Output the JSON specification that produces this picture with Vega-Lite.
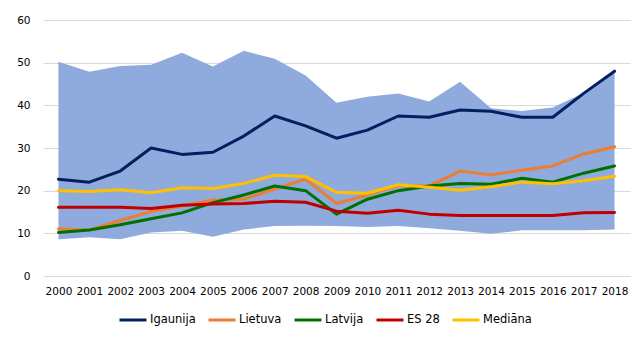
{
  "$schema": "https://vega.github.io/schema/vega-lite/v6.json",
  "autosize": "none",
  "width": 587,
  "height": 256,
  "padding": {"left": 43, "top": 20, "right": 11, "bottom": 75},
  "background": "white",
  "config": {
    "view": {"stroke": null},
    "font": "DejaVu Sans",
    "axis": {"labelFont": "DejaVu Sans", "labelColor": "#000000"}
  },
  "datasets": {
    "band": [
      {"year": "2000", "min": 8.6, "max": 50.2},
      {"year": "2001", "min": 9.1, "max": 47.9},
      {"year": "2002", "min": 8.6, "max": 49.2},
      {"year": "2003", "min": 10.2, "max": 49.5},
      {"year": "2004", "min": 10.6, "max": 52.3},
      {"year": "2005", "min": 9.2, "max": 49.1},
      {"year": "2006", "min": 10.9, "max": 52.8},
      {"year": "2007", "min": 11.7, "max": 50.9},
      {"year": "2008", "min": 11.8, "max": 47.0},
      {"year": "2009", "min": 11.7, "max": 40.6},
      {"year": "2010", "min": 11.5, "max": 42.0},
      {"year": "2011", "min": 11.7, "max": 42.8},
      {"year": "2012", "min": 11.2, "max": 40.9},
      {"year": "2013", "min": 10.6, "max": 45.5},
      {"year": "2014", "min": 9.9, "max": 39.3},
      {"year": "2015", "min": 10.7, "max": 38.7},
      {"year": "2016", "min": 10.7, "max": 39.5},
      {"year": "2017", "min": 10.7, "max": 42.9},
      {"year": "2018", "min": 10.9, "max": 48.1}
    ],
    "lines": [
      {"year": "2000", "series": "Igaunija", "value": 22.7},
      {"year": "2001", "series": "Igaunija", "value": 22.0},
      {"year": "2002", "series": "Igaunija", "value": 24.6},
      {"year": "2003", "series": "Igaunija", "value": 30.0},
      {"year": "2004", "series": "Igaunija", "value": 28.5},
      {"year": "2005", "series": "Igaunija", "value": 29.0},
      {"year": "2006", "series": "Igaunija", "value": 32.8},
      {"year": "2007", "series": "Igaunija", "value": 37.5},
      {"year": "2008", "series": "Igaunija", "value": 35.2},
      {"year": "2009", "series": "Igaunija", "value": 32.3},
      {"year": "2010", "series": "Igaunija", "value": 34.2},
      {"year": "2011", "series": "Igaunija", "value": 37.5},
      {"year": "2012", "series": "Igaunija", "value": 37.2},
      {"year": "2013", "series": "Igaunija", "value": 38.9},
      {"year": "2014", "series": "Igaunija", "value": 38.6},
      {"year": "2015", "series": "Igaunija", "value": 37.2},
      {"year": "2016", "series": "Igaunija", "value": 37.2},
      {"year": "2017", "series": "Igaunija", "value": 42.8},
      {"year": "2018", "series": "Igaunija", "value": 48.0},
      {"year": "2000", "series": "Lietuva", "value": 11.0},
      {"year": "2001", "series": "Lietuva", "value": 10.8},
      {"year": "2002", "series": "Lietuva", "value": 13.0},
      {"year": "2003", "series": "Lietuva", "value": 15.1},
      {"year": "2004", "series": "Lietuva", "value": 16.4},
      {"year": "2005", "series": "Lietuva", "value": 17.8},
      {"year": "2006", "series": "Lietuva", "value": 18.0},
      {"year": "2007", "series": "Lietuva", "value": 20.4},
      {"year": "2008", "series": "Lietuva", "value": 22.7},
      {"year": "2009", "series": "Lietuva", "value": 17.0},
      {"year": "2010", "series": "Lietuva", "value": 19.0},
      {"year": "2011", "series": "Lietuva", "value": 21.2},
      {"year": "2012", "series": "Lietuva", "value": 21.1},
      {"year": "2013", "series": "Lietuva", "value": 24.6},
      {"year": "2014", "series": "Lietuva", "value": 23.7},
      {"year": "2015", "series": "Lietuva", "value": 24.8},
      {"year": "2016", "series": "Lietuva", "value": 25.8},
      {"year": "2017", "series": "Lietuva", "value": 28.6},
      {"year": "2018", "series": "Lietuva", "value": 30.3},
      {"year": "2000", "series": "Latvija", "value": 10.2},
      {"year": "2001", "series": "Latvija", "value": 10.8},
      {"year": "2002", "series": "Latvija", "value": 12.0},
      {"year": "2003", "series": "Latvija", "value": 13.4},
      {"year": "2004", "series": "Latvija", "value": 14.8},
      {"year": "2005", "series": "Latvija", "value": 17.2},
      {"year": "2006", "series": "Latvija", "value": 19.0},
      {"year": "2007", "series": "Latvija", "value": 21.1},
      {"year": "2008", "series": "Latvija", "value": 20.0},
      {"year": "2009", "series": "Latvija", "value": 14.5},
      {"year": "2010", "series": "Latvija", "value": 18.0},
      {"year": "2011", "series": "Latvija", "value": 20.0},
      {"year": "2012", "series": "Latvija", "value": 21.1},
      {"year": "2013", "series": "Latvija", "value": 21.7},
      {"year": "2014", "series": "Latvija", "value": 21.5},
      {"year": "2015", "series": "Latvija", "value": 22.9},
      {"year": "2016", "series": "Latvija", "value": 22.0},
      {"year": "2017", "series": "Latvija", "value": 24.1},
      {"year": "2018", "series": "Latvija", "value": 25.8},
      {"year": "2000", "series": "ES 28", "value": 16.1},
      {"year": "2001", "series": "ES 28", "value": 16.1},
      {"year": "2002", "series": "ES 28", "value": 16.1},
      {"year": "2003", "series": "ES 28", "value": 15.8},
      {"year": "2004", "series": "ES 28", "value": 16.6},
      {"year": "2005", "series": "ES 28", "value": 16.9},
      {"year": "2006", "series": "ES 28", "value": 17.0},
      {"year": "2007", "series": "ES 28", "value": 17.5},
      {"year": "2008", "series": "ES 28", "value": 17.3},
      {"year": "2009", "series": "ES 28", "value": 15.2},
      {"year": "2010", "series": "ES 28", "value": 14.7},
      {"year": "2011", "series": "ES 28", "value": 15.4},
      {"year": "2012", "series": "ES 28", "value": 14.5},
      {"year": "2013", "series": "ES 28", "value": 14.2},
      {"year": "2014", "series": "ES 28", "value": 14.2},
      {"year": "2015", "series": "ES 28", "value": 14.2},
      {"year": "2016", "series": "ES 28", "value": 14.2},
      {"year": "2017", "series": "ES 28", "value": 14.8},
      {"year": "2018", "series": "ES 28", "value": 14.9},
      {"year": "2000", "series": "Mediāna", "value": 20.0},
      {"year": "2001", "series": "Mediāna", "value": 19.8},
      {"year": "2002", "series": "Mediāna", "value": 20.2},
      {"year": "2003", "series": "Mediāna", "value": 19.5},
      {"year": "2004", "series": "Mediāna", "value": 20.7},
      {"year": "2005", "series": "Mediāna", "value": 20.5},
      {"year": "2006", "series": "Mediāna", "value": 21.7},
      {"year": "2007", "series": "Mediāna", "value": 23.6},
      {"year": "2008", "series": "Mediāna", "value": 23.3},
      {"year": "2009", "series": "Mediāna", "value": 19.6},
      {"year": "2010", "series": "Mediāna", "value": 19.4},
      {"year": "2011", "series": "Mediāna", "value": 21.4},
      {"year": "2012", "series": "Mediāna", "value": 20.8},
      {"year": "2013", "series": "Mediāna", "value": 20.1},
      {"year": "2014", "series": "Mediāna", "value": 20.9},
      {"year": "2015", "series": "Mediāna", "value": 22.0},
      {"year": "2016", "series": "Mediāna", "value": 21.6},
      {"year": "2017", "series": "Mediāna", "value": 22.3},
      {"year": "2018", "series": "Mediāna", "value": 23.4}
    ]
  },
  "layer": [
    {
      "data": {"name": "band"},
      "mark": {"type": "area", "color": "#8FAADC", "opacity": 1},
      "encoding": {
        "x": {
          "field": "year", "type": "ordinal",
          "scale": {"type": "point", "padding": 0.5},
          "axis": {"title": null, "labelAngle": 0, "ticks": false, "domain": false, "labelFontSize": 10.5, "labelPadding": 10, "grid": false}
        },
        "y": {
          "field": "min", "type": "quantitative",
          "scale": {"domain": [0, 60], "nice": false},
          "axis": {"title": null, "values": [0, 10, 20, 30, 40, 50, 60], "ticks": false, "domain": false, "gridColor": "#D9D9D9", "gridWidth": 1, "labelFontSize": 10.5, "labelPadding": 13}
        },
        "y2": {"field": "max"}
      }
    },
    {
      "data": {"name": "lines"},
      "mark": {"type": "line", "strokeWidth": 3, "strokeCap": "round", "strokeJoin": "round"},
      "encoding": {
        "x": {"field": "year", "type": "ordinal"},
        "y": {"field": "value", "type": "quantitative"},
        "color": {
          "field": "series", "type": "nominal",
          "scale": {
            "domain": ["Igaunija", "Lietuva", "Latvija", "ES 28", "Mediāna"],
            "range": ["#002060", "#ED7D31", "#007000", "#C00000", "#FFC000"]
          },
          "legend": {
            "title": null,
            "orient": "none",
            "direction": "horizontal",
            "legendX": 75,
            "legendY": 285,
            "symbolType": "stroke",
            "symbolSize": 729,
            "symbolStrokeWidth": 3,
            "labelFontSize": 11.5,
            "labelFont": "DejaVu Sans",
            "labelColor": "#000000",
            "labelOffset": 2,
            "columnPadding": 6
          }
        }
      }
    }
  ]
}
